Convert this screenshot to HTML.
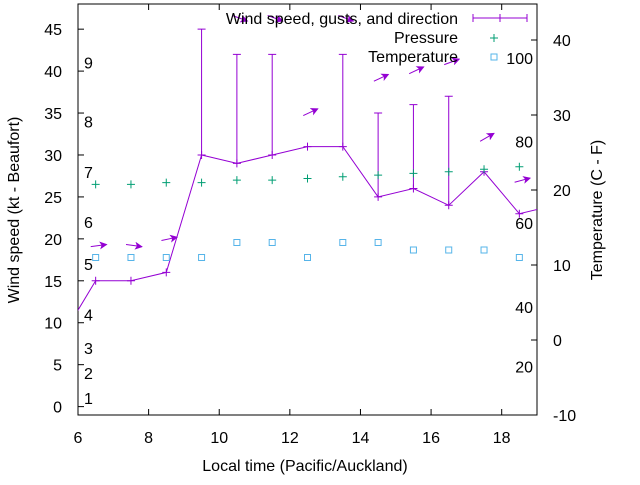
<!DOCTYPE html>
<html><head><meta charset="utf-8"><style>
body{margin:0;background:#fff}
svg{font-family:"Liberation Sans",sans-serif;font-size:16px}
</style></head><body>
<svg id="c" width="640" height="480" xmlns="http://www.w3.org/2000/svg"></svg>
<script>
const xs=[5.5,6.5,7.5,8.5,9.5,10.5,11.5,12.5,13.5,14.5,15.5,16.5,17.5,18.5,19.5];
const speed=[8,15,15,16,30,29,30,31,31,25,26,24,28,23,24];
const gustX=[9.5,10.5,11.5,13.5,14.5,15.5,16.5];
const gust=[45,42,42,42,35,36,37];
const gustBase=[30,29,30,31,25,26,24];
const pressX=[6.5,7.5,8.5,9.5,10.5,11.5,12.5,13.5,14.5,15.5,16.5,17.5,18.5];
const press=[26.5,26.5,26.7,26.7,27.0,27.0,27.2,27.4,27.6,27.8,28.0,28.3,28.6];
const tempX=[6.5,7.5,8.5,9.5,10.5,11.5,12.5,13.5,14.5,15.5,16.5,17.5,18.5];
const temp=[11,11,11,11,13,13,11,13,13,12,12,12,11];
const arrX=[6.5,7.5,8.5,10.5,11.5,12.5,13.5,14.5,15.5,16.5,17.5,18.5];
const arrY=[19.2,19.2,20,46.3,46.3,35.1,46.3,39.2,40.1,41.1,32.1,27];
const arrAng=[-8,8,-12,20,20,-25,20,-25,-25,-20,-30,-15];
const xTicks=[6,8,10,12,14,16,18];
const yTicks=[0,5,10,15,20,25,30,35,40,45];
const y2Ticks=[-10,0,10,20,30,40];
const bft=[1,2,3,4,5,6,7,8,9];
const bftY=[1,4,7,11,17,22,28,34,41];
const fahr=[20,40,60,80,100];
const fahrY=[-3.5,4.4,15.6,26.5,37.6];

const L=78,R=537,T=4,B=415;
const X=v=>L+(v-6)/(19-6)*(R-L);
const Y=v=>B-(v+1)/(48+1)*(B-T);
const Y2=v=>B-(v+10)/(44.8+10)*(B-T);
const svg=document.getElementById('c');
const NS='http://www.w3.org/2000/svg';
function mk(tag,at,txt,parent){const e=document.createElementNS(NS,tag);for(const k in at)e.setAttribute(k,at[k]);if(txt!==undefined)e.textContent=txt;(parent||svg).appendChild(e);return e;}

let defs=mk('defs',{});
let cp=mk('clipPath',{id:'clip'},undefined,defs);mk('rect',{x:L,y:T,width:R-L,height:B-T},undefined,cp);
let mkr=mk('marker',{id:'ah',markerWidth:8,markerHeight:8,refX:7,refY:4,orient:'auto',markerUnits:'userSpaceOnUse'},undefined,defs);
mk('path',{d:'M0,0 L8,4 L0,8 L2,4 Z',fill:'#9400d3'},undefined,mkr);

let f=mk('rect',{x:L,y:T,width:R-L,height:B-T,fill:'none',stroke:'#000','stroke-width':1});


xTicks.forEach(t=>{
  let x=X(t);
  mk('line',{x1:x,y1:B,x2:x,y2:B-6,stroke:'#000'});
  mk('line',{x1:x,y1:T,x2:x,y2:T+6,stroke:'#000'});
  let tx=mk('text',{x:x,y:443,'text-anchor':'middle'},String(t));
  
  
});
yTicks.forEach(t=>{
  let y=Y(t);
  mk('line',{x1:L,y1:y,x2:L+6,y2:y,stroke:'#000'});
  let tx=mk('text',{x:62,y:y+6,'text-anchor':'end'},String(t));
  
  
});
y2Ticks.forEach(t=>{
  let y=Y2(t);
  mk('line',{x1:R,y1:y,x2:R-6,y2:y,stroke:'#000'});
  let tx=mk('text',{x:553,y:y+6,'text-anchor':'start'},String(t));
  
  
});
bft.forEach((b,i)=>{
  let tx=mk('text',{x:84,y:Y(bftY[i])+6},String(b));
  
  
});
fahr.forEach((b,i)=>{
  let tx=mk('text',{x:533,y:Y2(fahrY[i])+6,'text-anchor':'end'},String(b));
  
  
});

let g=mk('g',{'clip-path':'url(#clip)'});
let pts=xs.map((x,i)=>X(x)+','+Y(speed[i])).join(' ');
let pl=mk('polyline',{points:pts,fill:'none',stroke:'#9400d3','stroke-width':1},undefined,g);

xs.forEach((x,i)=>{const px=X(x),py=Y(speed[i]);
  let m=mk('path',{d:`M${px-4},${py}H${px+4}M${px},${py-4}V${py+4}`,stroke:'#9400d3'},undefined,g);
  });
gustX.forEach((x,i)=>{const px=X(x),y1=Y(gustBase[i]),y2=Y(gust[i]);
  let m=mk('path',{d:`M${px},${y1}V${y2}M${px-4},${y2}H${px+4}`,stroke:'#9400d3'},undefined,g);
  });
pressX.forEach((x,i)=>{const px=X(x),py=Y(press[i]);
  let m=mk('path',{d:`M${px-4},${py}H${px+4}M${px},${py-4}V${py+4}`,stroke:'#009e73'},undefined,g);
  });
tempX.forEach((x,i)=>{const px=X(x),py=Y2(temp[i]);
  let m=mk('rect',{x:px-3,y:py-3,width:6,height:6,fill:'none',stroke:'#56b4e9'},undefined,g);
  });
arrX.forEach((x,i)=>{const cx=X(x)+3,cy=Y(arrY[i]),a=arrAng[i]*Math.PI/180,l=16;
  const dx=Math.cos(a)*l/2,dy=Math.sin(a)*l/2;
  let m=mk('line',{x1:cx-dx,y1:cy-dy,x2:cx+dx,y2:cy+dy,stroke:'#9400d3','marker-end':'url(#ah)'},undefined,g);
  });

let lg=mk('g',{});
mk('text',{x:458,y:24,'text-anchor':'end'},'Wind speed, gusts, and direction',lg);
mk('path',{d:'M473,18H527M473,14V22M527,14V22M500,14V22',stroke:'#9400d3'},undefined,lg);
mk('text',{x:458,y:43,'text-anchor':'end'},'Pressure',lg);
mk('path',{d:'M490,38H498M494,34V42',stroke:'#009e73'},undefined,lg);
mk('text',{x:458,y:62,'text-anchor':'end'},'Temperature',lg);
mk('rect',{x:491,y:54,width:6,height:6,fill:'none',stroke:'#56b4e9'},undefined,lg);

let xl=mk('text',{x:305,y:471,'text-anchor':'middle'},'Local time (Pacific/Auckland)');

let yl=mk('text',{x:0,y:0,'text-anchor':'middle',transform:'translate(19,210) rotate(-90)'},'Wind speed (kt - Beaufort)');

let y2l=mk('text',{x:0,y:0,'text-anchor':'middle',transform:'translate(602,210) rotate(-90)'},'Temperature (C - F)');

</script>
</body></html>
